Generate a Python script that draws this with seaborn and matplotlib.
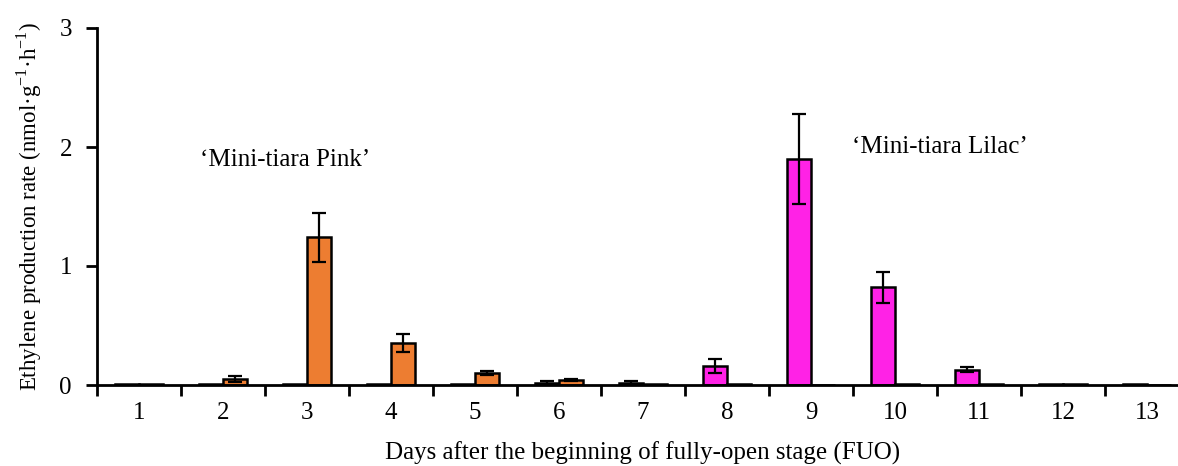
import numpy as np
import pandas as pd
import matplotlib
matplotlib.use("Agg")
import matplotlib.pyplot as plt
import seaborn as sns

days = [str(d) for d in range(1, 14)]
lilac = [0.005, 0.005, 0.005, 0.005, 0.005, 0.02, 0.02, 0.16, 1.90, 0.82, 0.13, 0.01, 0.005]
lilac_err = [0.0, 0.0, 0.0, 0.0, 0.0, 0.01, 0.01, 0.055, 0.38, 0.13, 0.02, 0.0, 0.0]
pink = [0.005, 0.05, 1.24, 0.35, 0.10, 0.04, 0.01, 0.005, 0.0, 0.005, 0.005, 0.005, 0.0]
pink_err = [0.0, 0.025, 0.205, 0.075, 0.015, 0.01, 0.0, 0.0, 0.0, 0.0, 0.0, 0.0, 0.0]
cultivars = ["Lilac", "Pink"]
colors = {"Lilac": "#FF22E6", "Pink": "#ED7D31"}

df = pd.DataFrame({
    "day": days * 2,
    "cultivar": ["Lilac"] * 13 + ["Pink"] * 13,
    "value": lilac + pink,
    "err": lilac_err + pink_err,
})

sns.set_style("ticks")
plt.rcParams["font.family"] = ["Liberation Serif", "DejaVu Serif"]
plt.rcParams["mathtext.fontset"] = "custom"
plt.rcParams["mathtext.rm"] = "Liberation Serif"
plt.rcParams["text.color"] = "black"
plt.rcParams["axes.labelcolor"] = "black"
plt.rcParams["xtick.color"] = "black"
plt.rcParams["ytick.color"] = "black"

fs = 18
fig = plt.figure(figsize=(11.78, 4.66), dpi=100)
ax = fig.add_axes([97 / 1178, 81 / 466, 1092 / 1178, 357 / 466])

sns.barplot(data=df, x="day", y="value", hue="cultivar", order=days,
            hue_order=cultivars, palette=colors, width=0.57, gap=0,
            saturation=1, errorbar=None, edgecolor="black", linewidth=1.8,
            legend=False, ax=ax)

# error bars from bar patches
for cont, cv in zip(ax.containers, cultivars):
    sub = df[df.cultivar == cv].set_index("day").loc[days]
    xs = [p.get_x() + p.get_width() / 2 for p in cont.patches]
    ys = sub["value"].values
    es = sub["err"].values
    mask = es > 0
    ax.errorbar(np.array(xs)[mask], ys[mask], yerr=es[mask], fmt="none",
                ecolor="black", elinewidth=1.6, capsize=5, capthick=1.6)

ax.set_xlim(-0.5, 12.5)
ax.set_ylim(0, 3)
ax.set_yticks([0, 1, 2, 3])
ax.set_yticklabels(["0", "1", "2", "3"])
ax.set_xticks(np.arange(-0.5, 13, 1), minor=True)
ax.tick_params(axis="x", which="major", length=0, labelsize=fs, pad=12, labelcolor="black")
ax.tick_params(axis="x", which="minor", bottom=True, length=8, width=2, direction="out", color="black")
ax.tick_params(axis="y", which="major", left=True, length=8, width=2, direction="out",
               labelsize=fs, pad=10, color="black", labelcolor="black")
for s in ["top", "right"]:
    ax.spines[s].set_visible(False)
for s in ["left", "bottom"]:
    ax.spines[s].set_linewidth(2)
    ax.spines[s].set_color("black")

ax.set_xlabel("Days after the beginning of fully-open stage (FUO)", fontsize=fs, labelpad=13, color="black")
ax.set_ylabel("Ethylene production rate (nmol·g$^{-1}$·h$^{-1}$)", fontsize=16.5, labelpad=11, color="black")

ax.text(1.74, 1.89, "\u2018Mini-tiara Pink\u2019", fontsize=fs, ha="center", va="center", color="black")
ax.text(9.54, 2.0, "\u2018Mini-tiara Lilac\u2019", fontsize=fs, ha="center", va="center", color="black")

fig.savefig("out.png", dpi=100)
